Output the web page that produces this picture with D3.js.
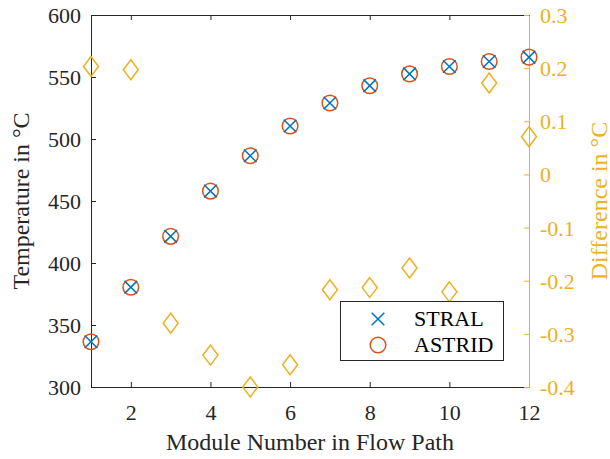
<!DOCTYPE html>
<html>
<head>
<meta charset="utf-8">
<script src="https://cdn.jsdelivr.net/npm/d3@7"></script>
<style>
  html, body { margin: 0; padding: 0; background: #fff; }
  svg { display: block; }
  svg text { font-family: "Liberation Serif", "Times New Roman", serif; }
</style>
</head>
<body>
<svg id="chart" width="610" height="459"></svg>
<script>
// Module numbers along the flow path
const modules = [1, 2, 3, 4, 5, 6, 7, 8, 9, 10, 11, 12];
// Outlet temperatures per module (°C)
const stral  = [336.5, 380.5, 421.5, 458, 486.5, 510.5, 529, 543, 552.5, 558.5, 562.5, 566];
const astrid = [336.5, 380.5, 421.5, 458, 486.5, 510.5, 529, 543, 552.5, 558.5, 562.5, 566];
// Difference between the two codes (°C)
const diff = [0.203, 0.197, -0.280, -0.340, -0.400, -0.358, -0.217, -0.213, -0.176, -0.221, 0.172, 0.071];

const xTicks = [2, 4, 6, 8, 10, 12];
const yLeftTicks = [300, 350, 400, 450, 500, 550, 600];
const yRightTicks = [-0.4, -0.3, -0.2, -0.1, 0, 0.1, 0.2, 0.3];
const seriesNames = ["STRAL", "ASTRID"];

const C_AX = "#262626", C_BLUE = "#0072BD", C_RED = "#D95319", C_YEL = "#EDB120";
const L = 91, R = 529, T = 15, B = 387;
const tickFont = 22, labelFont = 24;
const FONT = "Liberation Serif";

const svg = d3.select("#chart");
const x = d3.scaleLinear().domain([1, 12]).range([L, R]);
const yL = d3.scaleLinear().domain([300, 600]).range([B, T]);
const yR = d3.scaleLinear().domain([-0.4, 0.3]).range([B, T]);

const tickLen = 5;
function styleAxis(g, color) {
  g.attr("font-family", FONT).attr("font-size", tickFont);
  g.select(".domain").attr("stroke", color).attr("stroke-width", 1);
  g.selectAll(".tick line").attr("stroke", color).attr("stroke-width", 1);
  g.selectAll(".tick text").attr("fill", color);
}

// bottom axis (ticks pointing inward)
svg.append("g").attr("transform", `translate(0,${B})`)
  .call(d3.axisBottom(x).tickValues(xTicks).tickSizeInner(-tickLen).tickSizeOuter(0).tickPadding(17))
  .call(g => styleAxis(g, C_AX));
// top axis, ticks only
svg.append("g").attr("transform", `translate(0,${T})`)
  .call(d3.axisTop(x).tickValues(xTicks).tickSizeInner(-tickLen).tickSizeOuter(0).tickFormat(""))
  .call(g => styleAxis(g, C_AX));
// left axis
svg.append("g").attr("transform", `translate(${L},0)`)
  .call(d3.axisLeft(yL).tickValues(yLeftTicks).tickSizeInner(-tickLen).tickSizeOuter(0).tickPadding(10).tickFormat(d3.format("d")))
  .call(g => styleAxis(g, C_AX))
  .call(g => g.selectAll(".tick text").attr("dy", "0.34em"));
// right axis (plain hyphen for negatives)
svg.append("g").attr("transform", `translate(${R},0)`)
  .call(d3.axisRight(yR).tickValues(yRightTicks).tickSizeInner(-tickLen).tickSizeOuter(0).tickPadding(11)
    .tickFormat(d => Math.abs(d) < 1e-9 ? "0" : (d < 0 ? "-" : "") + Math.abs(d).toFixed(1)))
  .call(g => styleAxis(g, C_YEL))
  .call(g => g.selectAll(".tick text").attr("dy", "0.34em"));

// axis titles
svg.append("text").attr("transform", `translate(${x(6.5)},450)`)
  .attr("text-anchor", "middle").attr("fill", C_AX).attr("font-size", labelFont)
  .text("Module Number in Flow Path");
svg.append("text").attr("transform", `translate(29,${(T + B) / 2}) rotate(-90)`)
  .attr("text-anchor", "middle").attr("fill", C_AX).attr("font-size", labelFont)
  .text("Temperature in °C");
svg.append("text").attr("transform", `translate(607,${(T + B) / 2}) rotate(-90)`)
  .attr("text-anchor", "middle").attr("fill", C_YEL).attr("font-size", labelFont)
  .text("Difference in °C");

// marker shapes
const cross = s => `M${-s},${-s}L${s},${s}M${-s},${s}L${s},${-s}`;
const diamond = (w, h) => `M0,${-h}L${w},0L0,${h}L${-w},0Z`;

// temperatures
svg.append("g").selectAll("circle").data(modules).join("circle")
  .attr("cx", (d) => x(d)).attr("cy", (d, i) => yL(astrid[i])).attr("r", 7.8)
  .attr("fill", "none").attr("stroke", C_RED).attr("stroke-width", 1.5);
svg.append("g").selectAll("path").data(modules).join("path")
  .attr("transform", (d, i) => `translate(${x(d)},${yL(stral[i])})`)
  .attr("d", cross(6.3)).attr("fill", "none").attr("stroke", C_BLUE).attr("stroke-width", 1.5);

// differences
svg.append("g").selectAll("path").data(modules).join("path")
  .attr("transform", (d, i) => `translate(${x(d)},${yR(diff[i])})`)
  .attr("d", diamond(7.5, 10)).attr("fill", "none").attr("stroke", C_YEL).attr("stroke-width", 1.5);

// legend
const lg = svg.append("g");
lg.append("rect").attr("x", 340.5).attr("y", 301.5).attr("width", 163).attr("height", 59)
  .attr("fill", "#fff").attr("stroke", C_AX).attr("stroke-width", 1);
const rows = [
  { name: seriesNames[0], y: 319, kind: "x" },
  { name: seriesNames[1], y: 345, kind: "o" }
];
rows.forEach(r => {
  if (r.kind === "x") {
    lg.append("path").attr("transform", `translate(378,${r.y})`).attr("d", cross(6.3))
      .attr("fill", "none").attr("stroke", C_BLUE).attr("stroke-width", 1.5);
  } else {
    lg.append("circle").attr("cx", 378).attr("cy", r.y).attr("r", 7.8)
      .attr("fill", "none").attr("stroke", C_RED).attr("stroke-width", 1.5);
  }
  lg.append("text").attr("x", 414).attr("y", r.y).attr("dy", "0.34em")
    .attr("fill", "#000").attr("font-size", tickFont).text(r.name);
});
</script>
</body>
</html>
